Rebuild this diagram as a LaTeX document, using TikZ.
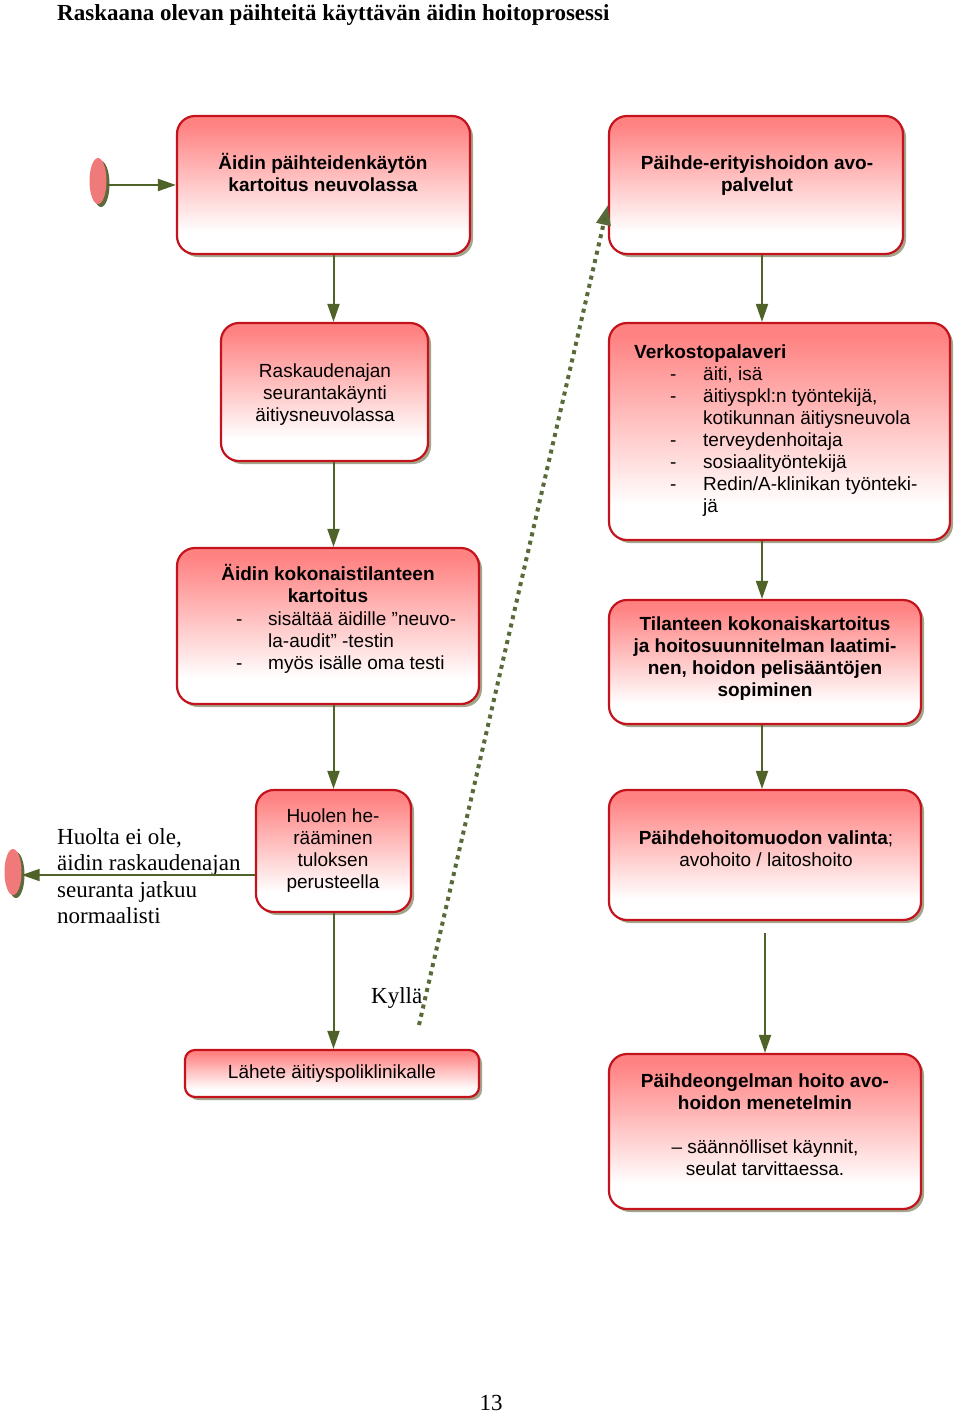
\documentclass[tikz,border=0pt]{standalone}
\usepackage{fontspec}
\setmainfont{Liberation Serif}
\newfontfamily\arial{Liberation Sans}
\usetikzlibrary{shapes.geometric,shadows,arrows.meta}
\definecolor{boxred}{HTML}{C3141E}
\definecolor{boxpink}{HTML}{FF8282}
\definecolor{shadowcol}{HTML}{A3A68C}
\definecolor{arrgreen}{HTML}{4F6228}
\definecolor{dotgreen}{HTML}{596A3A}
\definecolor{termred}{HTML}{F07A7A}
\definecolor{termshadow}{HTML}{5E6A3C}
\pgfdeclareverticalshading{boxshade}{100bp}{color(0bp)=(white); color(25bp)=(white); color(33bp)=(white); color(72bp)=(boxpink); color(100bp)=(boxpink)}
\newcommand\dli{\hspace*{36pt}\makebox[33pt][l]{-}}
\newcommand\dlc{\hspace*{69pt}}
\newcommand\dlb{\makebox[32pt][l]{-}}
\tikzset{
  box/.style={draw=boxred, line width=2.2pt, rounded corners=18pt, shade, shading=boxshade,
    drop shadow={shadow xshift=3pt, shadow yshift=-3pt, fill=shadowcol, opacity=1}, inner sep=0pt},
  arr/.style={draw=arrgreen, line width=2pt, -{Triangle[length=18pt,width=12pt]}},
  dotarr/.style={draw=dotgreen, line width=4pt, dash pattern=on 4pt off 4.5pt, -{Triangle[length=20pt,width=14pt,fill=arrgreen]}},
  txt/.style={font=\arial\fontsize{19}{22}\selectfont, inner sep=0pt},
  serif/.style={font=\fontsize{23}{26.5}\selectfont, inner sep=0pt},
  term/.style={ellipse, fill=termred, minimum width=17pt, minimum height=46pt, inner sep=0pt,
    drop shadow={shadow xshift=3pt, shadow yshift=-3pt, fill=termshadow, opacity=1}}
}
\begin{document}
\begin{tikzpicture}[x=1pt,y=-1pt]
\useasboundingbox (0,0) rectangle (960,1414);
% title
\node[serif, anchor=base west, font=\bfseries\fontsize{23}{26.5}\selectfont] (title) at (57,20) {Raskaana olevan päihteitä käyttävän äidin hoitoprosessi};
% boxes
\node[box, minimum width=293pt, minimum height=138pt] (b1) at (323.5,185) {};
\node[box, minimum width=294pt, minimum height=138pt] (b2) at (756,185) {};
\node[box, minimum width=207pt, minimum height=138pt] (b3) at (324.5,392) {};
\node[box, minimum width=341pt, minimum height=217pt] (b4) at (779.5,431.5) {};
\node[box, minimum width=302pt, minimum height=156pt] (b5) at (328,626) {};
\node[box, minimum width=312pt, minimum height=124pt] (b6) at (765,662) {};
\node[box, minimum width=155pt, minimum height=122pt] (b7) at (333.5,851) {};
\node[box, minimum width=312pt, minimum height=130pt] (b8) at (765,855) {};
\node[box, rounded corners=10pt, minimum width=294pt, minimum height=47pt] (b9) at (332,1073.5) {};
\node[box, minimum width=312pt, minimum height=155pt] (b10) at (765,1131.5) {};
% texts
\node[txt, anchor=base] (t1) at (323,169) {\bfseries\begin{tabular}[t]{@{}c@{}}Äidin päihteidenkäytön\\kartoitus neuvolassa\end{tabular}};
\node[txt, anchor=base] (t2) at (757,169) {\bfseries\begin{tabular}[t]{@{}c@{}}Päihde-erityishoidon avo-\\palvelut\end{tabular}};
\node[txt, anchor=base] (t3) at (325,377) {\begin{tabular}[t]{@{}c@{}}Raskaudenajan\\seurantakäynti\\äitiysneuvolassa\end{tabular}};
\node[txt, anchor=base west] (t4) at (634,358) {\begin{tabular}[t]{@{}l@{}}\textbf{Verkostopalaveri}\\
\dli äiti, isä\\
\dli äitiyspkl:n työntekijä,\\
\dlc kotikunnan äitiysneuvola\\
\dli terveydenhoitaja\\
\dli sosiaalityöntekijä\\
\dli Redin/A-klinikan työnteki-\\
\dlc jä\end{tabular}};
\node[txt, anchor=base] (t5a) at (328,580) {\bfseries\begin{tabular}[t]{@{}c@{}}Äidin kokonaistilanteen\\kartoitus\end{tabular}};
\node[txt, anchor=base west] (t5b) at (236,625) {\begin{tabular}[t]{@{}l@{}}\dlb sisältää äidille ”neuvo-\\
\hspace*{32pt}la-audit” -testin\\
\dlb myös isälle oma testi\end{tabular}};
\node[txt, anchor=base] (t6) at (765,630) {\bfseries\begin{tabular}[t]{@{}c@{}}Tilanteen kokonaiskartoitus\\ja hoitosuunnitelman laatimi-\\nen, hoidon pelisääntöjen\\sopiminen\end{tabular}};
\node[txt, anchor=base] (t7) at (333,822) {\begin{tabular}[t]{@{}c@{}}Huolen he-\\rääminen\\tuloksen\\perusteella\end{tabular}};
\node[txt, anchor=base] (t8) at (766,844) {\begin{tabular}[t]{@{}c@{}}\textbf{Päihdehoitomuodon valinta};\\avohoito / laitoshoito\end{tabular}};
\node[txt, anchor=base] (t9) at (332,1078) {Lähete äitiyspoliklinikalle};
\node[txt, anchor=base] (t10) at (765,1087) {\begin{tabular}[t]{@{}c@{}}\textbf{Päihdeongelman hoito avo-}\\\textbf{hoidon menetelmin}\\ \\– säännölliset käynnit,\\seulat tarvittaessa.\end{tabular}};
% terminals
\node[term] (s) at (98,181) {};
\node[term] (e) at (13,872) {};
% labels
\node[serif, anchor=base west] (lab) at (57,844) {\begin{tabular}[t]{@{}l@{}}Huolta ei ole,\\äidin raskaudenajan\\seuranta jatkuu\\normaalisti\end{tabular}};
\node[serif, anchor=base west] (ky) at (371,1003) {Kyllä};
\node[serif, anchor=base] (pg) at (491,1410) {13};
% connectors
\coordinate (rx) at (762,0);
\coordinate (k) at (419,1025);
\draw[arr] (s.east |- b1.west) -- (b1.west);
\draw[arr] (b1.south -| b7.north) -- (b3.north -| b7.north);
\draw[arr] (b3.south -| b7.north) -- (b5.north -| b7.north);
\draw[arr] (b5.south -| b7.north) -- (b7.north);
\draw[arr] (b7.south) -- (b9.north -| b7.south);
\draw[arr] (b2.south -| rx) -- (b4.north -| rx);
\draw[arr] (b4.south -| rx) -- (b6.north -| rx);
\draw[arr] (b6.south -| rx) -- (b8.north -| rx);
\draw[arr] ([yshift=-12pt]b8.south) -- (b10.north);
\draw[arr] ([yshift=-24pt]b7.west) -- ([yshift=-24pt]b7.west -| e.east);
\draw[dotarr] (k) -- ([yshift=-20pt]b2.west);
\end{tikzpicture}
\end{document}
